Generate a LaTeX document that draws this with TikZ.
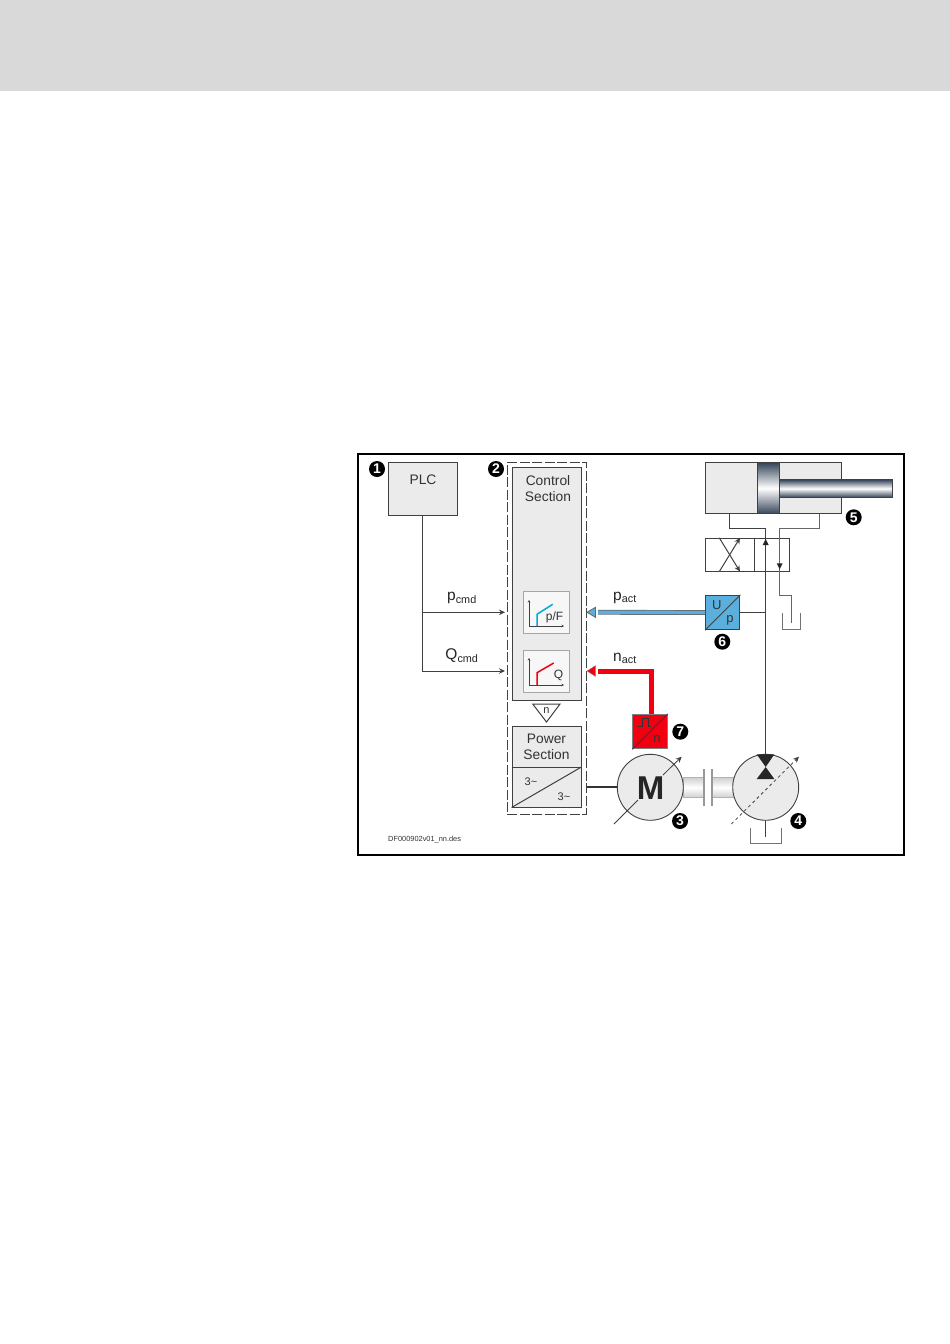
\documentclass[tikz,border=0pt]{standalone}
\usepackage{fontspec}
\setmainfont{Liberation Sans}
\usetikzlibrary{arrows.meta}
\definecolor{boxgray}{HTML}{EBEBEB}
\definecolor{linegray}{HTML}{404040}
\definecolor{headgray}{HTML}{D9D9D9}
\definecolor{sensblue}{HTML}{5AAFDC}
\definecolor{curveblue}{HTML}{00A8DC}
\definecolor{sensred}{HTML}{F20012}
\definecolor{steel}{HTML}{36465A}
\tikzset{
  block/.style={draw=linegray, line width=0.9pt, fill=boxgray, minimum width=#1, inner sep=0pt},
  txt/.style={font=\fontsize{13.8}{16.5}\selectfont, text=black!80, align=center, inner sep=0pt},
  sigtxt/.style={font=\fontsize{15.5}{16}\selectfont, text=black!85, inner sep=0pt},
  small/.style={font=\fontsize{11}{12}\selectfont, text=black!80, inner sep=0pt},
  numtag/.style={circle, fill=black, text=white, inner sep=0pt, minimum size=16pt, font=\fontsize{14}{14}\selectfont\bfseries},
  wire/.style={draw=linegray, line width=1pt},
  sig/.style={wire, -{Stealth[length=6pt,width=5.5pt]}},
  axes/.style={draw=linegray, line width=0.5pt, {Stealth[length=2.5pt,width=2.5pt]}-{Stealth[length=2.5pt,width=2.5pt]}}
}
\begin{document}
\begin{tikzpicture}[x=1pt,y=-1pt]
  \useasboundingbox (0,0) rectangle (950,1344);
  \fill[white] (0,0) rectangle (950,1344);
  \fill[headgray] (0,0) rectangle (950,91);
  \draw[black, line width=2pt] (358,453.5) rectangle (904,855);

  % left column
  \node[block=69pt, minimum height=53pt] (plc) at (422.8,488.5) {};
  \node[txt] (plctxt) at (423,480) {PLC};
  \node[draw=linegray, line width=1pt, dash pattern=on 10pt off 2.5pt, minimum width=79pt, minimum height=352pt, inner sep=0pt] (drive) at (546.5,638) {};
  \node[block=69pt, minimum height=233.5pt] (ctrl) at (546.5,584) {};
  \node[txt] (ctrltxt) at (548,488.5) {Control\\Section};
  \node[block=46.5pt, minimum height=42pt, draw=black!35, fill=white!60!boxgray] (pfbox) at (546.5,612) {};
  \node[block=46.5pt, minimum height=42pt, draw=black!35, fill=white!60!boxgray] (qbox) at (546.5,671) {};
  \draw[axes] (529,600) |- (564,626);
  \draw[axes] (529,658) |- (564,685);
  \draw[curveblue, line width=1.5pt] (537,626) -- (537,614.3) -- (552.7,604.3);
  \draw[sensred, line width=1.5pt] (537,685) -- (537,672.7) -- (553.7,663);
  \node[small, font=\fontsize{12}{12}\selectfont] (pftxt) at (554.5,617.5) {p/F};
  \node[small, font=\fontsize{12}{12}\selectfont] (qtxt) at (558.5,675) {Q};
  \draw[wire, fill=white] (532.7,704) -- (560,704) -- (546.5,722) -- cycle;
  \node[small] (ntxt) at (546.5,710.5) {n};
  \node[block=69pt, minimum height=80.7pt] (power) at (546.5,766.7) {};
  \node[txt] (powertxt) at (546.5,747) {Power\\Section};
  \draw[wire] (power.west |- 0,767) -- (power.east |- 0,767);
  \draw[wire] (power.south west) -- (power.east |- 0,767);
  \node[small] (acin) at (531,781.5) {3\textasciitilde};
  \node[small] (acout) at (564,796.5) {3\textasciitilde};

  % signals from the PLC
  \coordinate (pin) at (505,612.3);
  \coordinate (qin) at (505,671);
  \draw[sig] (plc.south) -- (plc.south |- pin) -- (pin);
  \draw[sig] (plc.south) |- (qin);
  \node[sigtxt] (pcmd) at (462,598) {p\textsubscript{cmd}};
  \node[sigtxt] (qcmd) at (462,656) {Q\textsubscript{cmd}};

  % cylinder
  \node[block=135.6pt, minimum height=51pt] (cyl) at (773.5,488.2) {};
  \shade[top color=steel, bottom color=steel, middle color=white, draw=linegray, line width=0.8pt] (779.7,479.7) rectangle (892.7,497.3);
  \shade[top color=steel, bottom color=steel, middle color=white, draw=linegray, line width=0.8pt] (757.3,462.7) rectangle (779.7,513.7);
  \node[numtag] (five) at (853.7,517.3) {5};

  % valve
  \node[draw=linegray, line width=1pt, fill=white, minimum width=48.6pt, minimum height=32.7pt, inner sep=0pt] (valvea) at (730,554.7) {};
  \node[draw=linegray, line width=1pt, fill=white, minimum width=34.7pt, minimum height=32.7pt, inner sep=0pt] (valveb) at (771.7,554.7) {};
  \draw[sig] (valvea.south west -| 719.3,0) -- (valvea.north west -| 740,0);
  \draw[sig] (valvea.north west -| 719.3,0) -- (valvea.south west -| 740,0);

  % pressure sensor
  \node[draw=linegray, line width=1pt, fill=sensblue, minimum size=34.3pt, inner sep=0pt] (ubox) at (722.7,612.5) {};
  \draw[wire] (ubox.south west) -- (ubox.north east);
  \node[txt, font=\fontsize{13}{12}\selectfont] (utxt) at (716.7,605) {U};
  \node[txt, font=\fontsize{13}{12}\selectfont] (ptxt) at (730,620.7) {p};
  \node[numtag] (six) at (722.3,641.7) {6};

  % speed sensor
  \node[draw=black!50, line width=0.9pt, fill=sensred, minimum size=34.5pt, inner sep=0pt] (nbox) at (650,731.6) {};
  \draw[black!80, line width=0.7pt] (nbox.south west) -- (nbox.north east);
  \draw[black!80, line width=0.7pt] (638,726) -- (642,726) -- (642,718.5) -- (648,718.5) -- (648,726) -- (651,726);
  \node[txt, font=\fontsize{13}{12}\selectfont] (ntxtb) at (657,739) {n};
  \node[numtag] (seven) at (680.3,731.7) {7};

  % shafts
  \shade[top color=black!18, bottom color=black!18, middle color=white, draw=black!30, line width=0.6pt] (683,777.7) rectangle (704,797.3);
  \shade[top color=black!18, bottom color=black!18, middle color=white, draw=black!30, line width=0.6pt] (712,777.7) rectangle (734,797.3);
  \draw[black!40, line width=1.3pt] (704,769) -- (704,806);
  \draw[black!40, line width=1.3pt] (712,769) -- (712,806);

  % motor and pump
  \node[circle, draw=linegray, line width=0.9pt, fill=boxgray, minimum size=66pt, inner sep=0pt] (motor) at (650.3,787.3) {};
  \node[font=\fontsize{33}{33}\selectfont\bfseries, text=black!85, inner sep=0pt] (mtxt) at (650.5,788) {M};
  \node[circle, draw=linegray, line width=0.9pt, fill=boxgray, minimum size=66pt, inner sep=0pt] (pump) at (765.7,787.3) {};
  \coordinate (marrowa) at (614,824);
  \coordinate (marrowb) at (638,800);
  \coordinate (marrowc) at (663,775);
  \coordinate (marrowd) at (681.7,756.7);
  \draw[wire, line width=0.8pt] (marrowa) -- (marrowb);
  \draw[sig, line width=0.8pt] (marrowc) -- (marrowd);
  \coordinate (parrowa) at (731.3,824);
  \coordinate (parrowb) at (799,756.7);
  \draw[sig, line width=0.8pt, dash pattern=on 3pt off 3pt] (parrowa) -- (parrowb);
  \node[numtag] (three) at (680,821) {3};
  \node[numtag] (four) at (798.3,821) {4};
  \draw[line width=2pt, black!80] (drive.east |- motor) -- (motor.west);

  % pump tank
  \draw[wire] (pump.south) -- (765.7,836.7);
  \draw[wire, draw=black!55] (750,828) |- (781.3,843) -- (781.3,828);

  % hydraulic lines
  \coordinate (plinetop) at (765.7,528.3);
  \coordinate (pumptop) at (765.7,754.3);
  \draw[wire] (pumptop) -- (plinetop) -- (729.3,528.3) -- (729.3,513.7);
  \draw[wire, draw=black!60] (819.7,513.7) -- (819.7,528.3) -- (779.7,528.3) -- (779.7,595.7) -- (791.7,595.7) -- (791.7,623);
  \draw[wire] (ubox.east) -- (ubox.east -| plinetop);
  \fill[black!85] (765.7,539) -- (762.7,545) -- (768.7,545) -- cycle;
  \fill[black!85] (779.7,569.3) -- (776.7,563.3) -- (782.7,563.3) -- cycle;
  \draw[wire, draw=black!55] (782.7,613.3) |- (800.7,629.3) -- (800.7,613.3);
  \fill[black!85] (756.7,754.3) -- (774.3,754.3) -- (765.7,767) -- cycle;
  \fill[black!85] (765.7,767) -- (756.7,779) -- (774.3,779) -- cycle;

  % feedback lines
  \coordinate (pacthead) at (598,612.3);
  \coordinate (nacthead) at (598,671);
  \draw[draw=black!60, line width=0.7pt, double=sensblue, double distance=3.4pt] (ubox.west) -- (pacthead);
  \draw[sensred, line width=5pt] (nbox.north -| 651,0) -- (651,671) -- (nacthead);
  \draw[draw=black!60, line width=0.8pt, fill=sensblue] (587,612.3) -- (595.5,607.3) -- (595.5,617.3) -- cycle;
  \draw[draw=black!40, line width=0.4pt, fill=sensred] (587,671) -- (595.5,665.5) -- (595.5,676.5) -- cycle;
  \node[sigtxt] (pact) at (625,598) {p\textsubscript{act}};
  \node[sigtxt] (nact) at (625,658) {n\textsubscript{act}};

  % tags and file name
  \node[numtag] (one) at (377,469) {1};
  \node[numtag] (two) at (496,469) {2};
  \node[anchor=west, font=\fontsize{7.4}{8}\selectfont, text=black!80, inner sep=0pt] (fname) at (388,840) {DF000902v01\_nn.des};
\end{tikzpicture}
\end{document}
